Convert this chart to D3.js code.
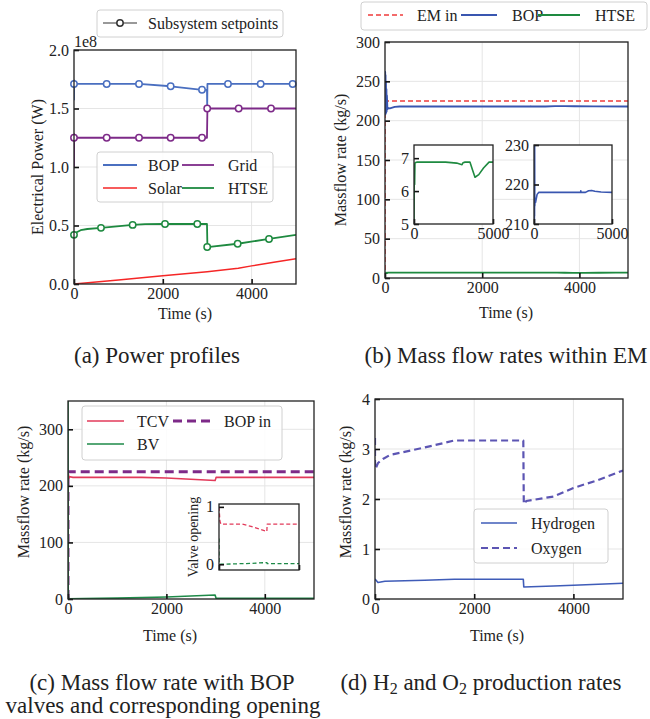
<!DOCTYPE html>
<html><head><meta charset="utf-8">
<script src="https://cdn.jsdelivr.net/npm/d3@7"></script>
<style>
body{margin:0;background:#fff;}
svg text{font-family:"Liberation Serif","Times New Roman",serif;fill:#222;}
</style></head><body>
<svg id="fig" width="650" height="719"></svg>
<script>
// ---------------- DATA ----------------
const timeTicks = [0, 2000, 4000];
// (a) power profiles, units of 1e8 W
const aTicks = [0, 0.5, 1.0, 1.5, 2.0];
const aBopT = [0, 3, 8, 15, 25, 40, 736, 1464, 2177, 2883, 2995, 3000, 3005, 5000];
const aBopV = [1.57, 1.74, 1.69, 1.73, 1.70, 1.71, 1.71, 1.71, 1.69, 1.66, 1.66, 1.52, 1.71, 1.71];
const aBopMarkT = [0, 736, 1464, 2177, 2883, 3468, 4204, 4925];
const aBopMarkV = [1.71, 1.71, 1.71, 1.69, 1.66, 1.71, 1.71, 1.71];
const aGridT = [0, 3, 8, 15, 25, 40, 2995, 3005, 5000];
const aGridV = [1.0, 1.28, 1.22, 1.27, 1.24, 1.25, 1.25, 1.5, 1.5];
const aGridMarkT = [0, 736, 1464, 2177, 2883, 3000, 3709, 4437];
const aGridMarkV = [1.25, 1.25, 1.25, 1.25, 1.25, 1.5, 1.5, 1.5];
const aHtseT = [0, 50, 150, 300, 608, 1321, 1600, 2050, 2995, 3005, 3686, 4392, 5000];
const aHtseV = [0.41, 0.44, 0.46, 0.47, 0.48, 0.505, 0.512, 0.513, 0.513, 0.316, 0.344, 0.385, 0.42];
const aHtseMarkT = [0, 608, 1321, 2050, 2777, 3000, 3686, 4392];
const aHtseMarkV = [0.42, 0.48, 0.505, 0.513, 0.513, 0.316, 0.344, 0.385];
const aSolarT = [0, 1000, 2000, 3000, 3700, 4000, 4500, 5000];
const aSolarV = [0, 0.035, 0.07, 0.105, 0.135, 0.155, 0.185, 0.215];

// (b) mass flow rates within EM
const bTicks = [0, 50, 100, 150, 200, 250, 300];
const bEmT = [0, 0.1, 5000];
const bEmV = [0, 225, 225];
const bBopT = [0, 4, 8, 12, 16, 20, 25, 30, 35, 40, 50, 70, 100, 150, 200, 300, 1000, 2990, 3000, 3010, 3300, 3500, 3700, 3900, 4300, 5000];
const bBopV = [215, 262, 208, 258, 212, 250, 210, 240, 212, 232, 214.5, 216, 215.5, 216.5, 217.5, 218, 218, 218, 218.4, 218, 218, 218.4, 218.5, 218.3, 218.1, 218];
const bHtseT = [0, 20, 40, 60, 100, 200, 2000, 2700, 3040, 3100, 3230, 3540, 3700, 3860, 4100, 4400, 4750, 5000];
const bHtseV = [5.0, 6.8, 6.2, 6.85, 6.87, 6.88, 6.88, 6.85, 6.8, 6.86, 6.88, 6.88, 6.65, 6.42, 6.5, 6.7, 6.88, 6.88];
const bIn1Ticks = [5, 6, 7];
const bIn2Ticks = [210, 220, 230];
const insetXTicks = [0, 5000];

// (c) BOP valves
const cTicks = [0, 100, 200, 300];
const cTcvT = [0, 2, 5, 10, 20, 40, 100, 1500, 2000, 2990, 3000, 3010, 5000];
const cTcvV = [0, 222, 212, 220, 214, 216, 215, 215, 214, 209.5, 212, 215, 215];
const cBopInT = [0, 0.1, 5000];
const cBopInV = [0, 225, 225];
const cBvT = [0, 2, 6, 15, 300, 1000, 2000, 2990, 3000, 3010, 5000];
const cBvV = [350, 40, 5, 0.5, 0.8, 1.5, 3.5, 7, 4, 1.2, 1.2];
const cTcvOpT = [0, 10, 60, 120, 1440, 2000, 2990, 3010, 5000];
const cTcvOpV = [1.0, 0.95, 0.75, 0.7, 0.7, 0.66, 0.57, 0.7, 0.7];
const cBvOpT = [0, 5, 30, 100, 2000, 3000, 3010, 5000];
const cBvOpV = [0.45, 0.05, 0.01, 0.0, 0.015, 0.03, 0.01, 0.01];
const cInTicks = [0, 1];

// (d) H2 / O2 production
const dTicks = [0, 1, 2, 3, 4];
const dH2T = [0, 60, 200, 1000, 1600, 2990, 3000, 3600, 4000, 5000];
const dH2V = [0.40, 0.33, 0.355, 0.375, 0.395, 0.395, 0.24, 0.26, 0.275, 0.315];
const dO2T = [0, 0.1, 20, 60, 160, 300, 1000, 1600, 2990, 3000, 3050, 3600, 4000, 4500, 5000];
const dO2V = [3.22, 2.6, 2.62, 2.72, 2.8, 2.88, 3.03, 3.17, 3.17, 1.9, 1.96, 2.05, 2.22, 2.38, 2.57];

// ---------------- DRAWING ----------------
const svg = d3.select("#fig");
let clipId = 0;
const FS = 16;
const CAP = 23;

function zip(t, v) { return t.map((d, i) => [d, v[i]]); }

function makeAxes(box, xDom, yDom, o) {
  o = o || {};
  const g = svg.append("g");
  const x = d3.scaleLinear().domain(xDom).range([box.x0, box.x1]);
  const y = d3.scaleLinear().domain(yDom).range([box.y1, box.y0]);
  g.append("rect").attr("x", box.x0).attr("y", box.y0).attr("width", box.x1 - box.x0).attr("height", box.y1 - box.y0).attr("fill", "#fff");
  if (o.grid) {
    g.selectAll(".gx").data(o.xTicks).enter().append("line")
      .attr("x1", d => x(d)).attr("x2", d => x(d)).attr("y1", box.y0).attr("y2", box.y1)
      .attr("stroke", "#e5e5e5").attr("stroke-width", 1);
    g.selectAll(".gy").data(o.yTicks).enter().append("line")
      .attr("y1", d => y(d)).attr("y2", d => y(d)).attr("x1", box.x0).attr("x2", box.x1)
      .attr("stroke", "#e5e5e5").attr("stroke-width", 1);
  }
  const id = "clip" + (clipId++);
  svg.append("clipPath").attr("id", id).append("rect")
    .attr("x", box.x0).attr("y", box.y0).attr("width", box.x1 - box.x0).attr("height", box.y1 - box.y0);
  const data = g.append("g").attr("clip-path", `url(#${id})`);
  return { g, x, y, data, box, o };
}

function finishAxes(ax, xFmt, yFmt) {
  const { g, x, y, box, o } = ax;
  const xa = d3.axisBottom(x).tickValues(o.xTicks).tickSizeInner(-5).tickSizeOuter(0).tickPadding(4)
    .tickFormat(o.noXLabels ? "" : (xFmt || d3.format("d")));
  const ya = d3.axisLeft(y).tickValues(o.yTicks).tickSizeInner(-5).tickSizeOuter(0).tickPadding(5)
    .tickFormat(yFmt || d3.format("d"));
  const gx = g.append("g").attr("transform", `translate(0,${box.y1})`).call(xa);
  const gy = g.append("g").attr("transform", `translate(${box.x0},0)`).call(ya);
  [gx, gy].forEach(a => {
    a.select(".domain").remove();
    a.selectAll(".tick line").attr("stroke", "#111").attr("stroke-width", 1.6);
    a.selectAll(".tick text").attr("font-size", o.fs || FS).attr("font-family", "Liberation Serif").attr("fill", "#222");
  });
  g.append("rect").attr("x", box.x0).attr("y", box.y0).attr("width", box.x1 - box.x0).attr("height", box.y1 - box.y0)
    .attr("fill", "none").attr("stroke", "#222").attr("stroke-width", 1.3);
}

function line(ax, t, v, color, w, dash) {
  const gen = d3.line().x(d => ax.x(d[0])).y(d => ax.y(d[1]));
  ax.data.append("path").attr("d", gen(zip(t, v))).attr("fill", "none")
    .attr("stroke", color).attr("stroke-width", w).attr("stroke-dasharray", dash || null)
    .attr("stroke-linejoin", "round");
}

function markers(ax, t, v, color) {
  ax.g.selectAll(null).data(zip(t, v)).enter().append("circle")
    .attr("cx", d => ax.x(d[0])).attr("cy", d => ax.y(d[1])).attr("r", 3.2)
    .attr("fill", "#fff").attr("stroke", color).attr("stroke-width", 1.5);
}

function legendBox(x, y, w, h) {
  svg.append("rect").attr("x", x).attr("y", y).attr("width", w).attr("height", h).attr("rx", 3)
    .attr("fill", "#fff").attr("fill-opacity", 0.85).attr("stroke", "#d0d0d0").attr("stroke-width", 1);
}
function legendEntry(x1, x2, y, tx, label, color, w, dash) {
  svg.append("line").attr("x1", x1).attr("x2", x2).attr("y1", y).attr("y2", y)
    .attr("stroke", color).attr("stroke-width", w).attr("stroke-dasharray", dash || null);
  svg.append("text").attr("x", tx).attr("y", y).attr("dy", "0.35em").attr("font-size", FS).text(label);
}
function text(x, y, s, fs, rot, anchor) {
  const t = svg.append("text").attr("font-size", fs).attr("text-anchor", anchor || "middle").attr("dy", "0.35em").text(s);
  if (rot) t.attr("transform", `translate(${x},${y}) rotate(${rot})`); else t.attr("x", x).attr("y", y);
  return t;
}

const C = {
  bopA: "#4a6fc0", grid: "#7d2a88", solar: "#f52626", htse: "#1e8a40",
  em: "#ef3b3b", bopB: "#3956b0",
  tcv: "#e23a5a", bopIn: "#7d2a88", bv: "#1e8a48",
  h2: "#3f5cb8", o2: "#5c55b3"
};

// ===== (a) =====
const A = makeAxes({ x0: 74, x1: 296, y0: 50, y1: 284 }, [0, 5000], [0, 2.0], { grid: true, xTicks: timeTicks, yTicks: aTicks });
line(A, aSolarT, aSolarV, C.solar, 1.5);
line(A, aHtseT, aHtseV, C.htse, 1.8);
line(A, aGridT, aGridV, C.grid, 1.8);
line(A, aBopT, aBopV, C.bopA, 1.8);
markers(A, aHtseMarkT, aHtseMarkV, C.htse);
markers(A, aGridMarkT, aGridMarkV, C.grid);
markers(A, aBopMarkT, aBopMarkV, C.bopA);
finishAxes(A, d3.format("d"), d3.format(".1f"));
text(74, 41, "1e8", FS, 0, "start");
text(37, 167, "Electrical Power (W)", FS, -90);
text(185, 313, "Time (s)", FS);
legendBox(97, 10, 186, 27);
svg.append("line").attr("x1", 103).attr("x2", 137).attr("y1", 23).attr("y2", 23).attr("stroke", "#777").attr("stroke-width", 1.3);
svg.append("circle").attr("cx", 120).attr("cy", 23).attr("r", 3.2).attr("fill", "#fff").attr("stroke", "#333").attr("stroke-width", 1.5);
svg.append("text").attr("x", 148).attr("y", 23).attr("dy", "0.35em").attr("font-size", FS).text("Subsystem setpoints");
legendBox(97, 152, 176, 50);
legendEntry(103, 137, 165, 148, "BOP", C.bopA, 1.8);
legendEntry(103, 137, 188, 148, "Solar", C.solar, 1.5);
legendEntry(182, 214, 165, 228, "Grid", C.grid, 1.8);
legendEntry(182, 214, 188, 228, "HTSE", C.htse, 1.8);
text(157, 355, "(a) Power profiles", CAP);

// ===== (b) =====
const B = makeAxes({ x0: 385, x1: 628, y0: 42, y1: 278 }, [0, 5000], [0, 300], { grid: true, xTicks: timeTicks, yTicks: bTicks });
line(B, bEmT, bEmV, C.em, 1.5, "5,3");
line(B, bBopT, bBopV, C.bopB, 1.8);
line(B, bHtseT, bHtseV, C.htse, 1.8);
finishAxes(B);
text(340, 160, "Massflow rate (kg/s)", FS, -90);
text(506, 312, "Time (s)", FS);
legendBox(361, 2, 286, 28);
legendEntry(368, 403, 15, 417, "EM in", C.em, 1.5, "5,3");
legendEntry(461, 497, 15, 512, "BOP", C.bopB, 1.8);
legendEntry(538, 580, 15, 595, "HTSE", C.htse, 1.8);
// insets
const B1 = makeAxes({ x0: 414, x1: 493, y0: 145, y1: 224 }, [0, 5000], [5, 7.4], { xTicks: insetXTicks, yTicks: bIn1Ticks });
line(B1, bHtseT, bHtseV, C.htse, 1.6);
finishAxes(B1);
const B2 = makeAxes({ x0: 534, x1: 612, y0: 145, y1: 224 }, [0, 5000], [210, 230], { xTicks: insetXTicks, yTicks: bIn2Ticks });
line(B2, bBopT, bBopV, C.bopB, 1.6);
finishAxes(B2);
text(506, 355, "(b) Mass flow rates within EM", CAP);

// ===== (c) =====
const Cx = makeAxes({ x0: 68, x1: 314, y0: 401, y1: 599 }, [0, 5000], [0, 350], { grid: true, xTicks: timeTicks, yTicks: cTicks });
line(Cx, cBopInT, cBopInV, C.bopIn, 3, "9,5");
line(Cx, cTcvT, cTcvV, C.tcv, 1.6);
line(Cx, cBvT, cBvV, C.bv, 1.6);
finishAxes(Cx);
text(23, 492, "Massflow rate (kg/s)", FS, -90);
text(170, 635, "Time (s)", FS);
legendBox(82, 406, 200, 54);
legendEntry(87, 124, 421, 137, "TCV", C.tcv, 1.6);
legendEntry(87, 124, 444, 137, "BV", C.bv, 1.6);
legendEntry(173, 210, 421, 224, "BOP in", C.bopIn, 3, "9,5");
const C1 = makeAxes({ x0: 219, x1: 299, y0: 504, y1: 570 }, [0, 5000], [-0.1, 1.05], { xTicks: insetXTicks, yTicks: cInTicks, noXLabels: true });
line(C1, cTcvOpT, cTcvOpV, C.tcv, 1.3, "4,2.5");
line(C1, cBvOpT, cBvOpV, C.bv, 1.3, "4,2.5");
finishAxes(C1);
text(193, 537, "Valve opening", 14, -90);
const capC = svg.append("text").attr("font-size", CAP).attr("text-anchor", "middle");
capC.append("tspan").attr("x", 162).attr("y", 690).text("(c) Mass flow rate with BOP");
capC.append("tspan").attr("x", 163).attr("y", 713).text("valves and corresponding opening");

// ===== (d) =====
const D = makeAxes({ x0: 375, x1: 623, y0: 399, y1: 599 }, [0, 5000], [0, 4], { grid: true, xTicks: timeTicks, yTicks: dTicks });
line(D, dH2T, dH2V, C.h2, 1.6);
line(D, dO2T, dO2V, C.o2, 2.2, "7,4");
finishAxes(D);
text(345, 492, "Massflow rate (kg/s)", FS, -90);
text(497, 635, "Time (s)", FS);
legendBox(474, 509, 134, 54);
legendEntry(481, 517, 523, 531, "Hydrogen", C.h2, 1.6);
legendEntry(481, 517, 548, 531, "Oxygen", C.o2, 2.2, "7,4");
const capD = svg.append("text").attr("font-size", CAP).attr("text-anchor", "middle").attr("x", 481).attr("y", 690);
capD.append("tspan").text("(d) H");
capD.append("tspan").attr("font-size", 16).attr("dy", 4).text("2");
capD.append("tspan").attr("dy", -4).text(" and O");
capD.append("tspan").attr("font-size", 16).attr("dy", 4).text("2");
capD.append("tspan").attr("dy", -4).text(" production rates");
</script>
</body></html>
